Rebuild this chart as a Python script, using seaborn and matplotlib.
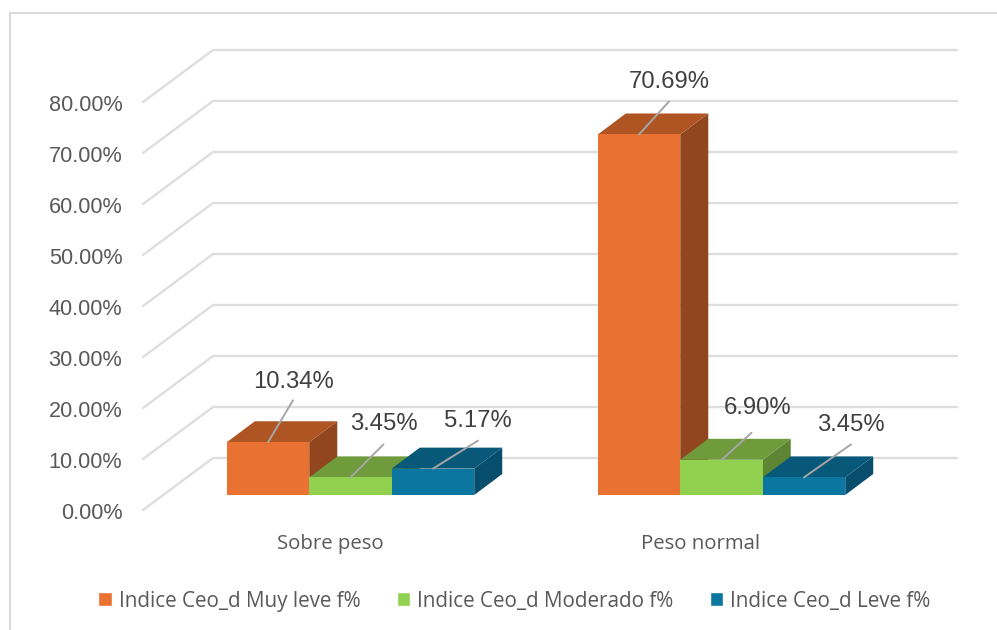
"""
plot.py - 3D looking clustered bars of Indice Ceo_d by weight group.
"""

import matplotlib.pyplot as plt
import pandas as pd
import seaborn as sns
from matplotlib.lines import Line2D
from matplotlib.patches import Polygon
from matplotlib.transforms import ScaledTranslation

categories = ["Sobre peso", "Peso normal"]
series_names = ["Indice Ceo_d Muy leve f%", "Indice Ceo_d Moderado f%", "Indice Ceo_d Leve f%"]
muy_leve = [10.34, 70.69]
moderado = [3.45, 6.90]
leve = [5.17, 3.45]
y_ticks = [0, 10, 20, 30, 40, 50, 60, 70, 80]

front_colors = ["#E97132", "#92D050", "#0B76A0"]
top_colors = ["#AF5523", "#6F9B3C", "#08587A"]
side_colors = ["#91461D", "#5E8533", "#064E6B"]

FIG_W, FIG_H = 997, 630
PX_PER_CAT = 371.0
PX_PER_UNIT = 5.1
CAT0_PX = 350.5
BASE_PX = 495.0
DEPTH_X, DEPTH_Y = 28, 21

# label position relative to the front edge of each bar top, in pixels
text_offsets = [[(25, 60), (33, 53), (45, 48)], [(30, 52), (36, 52), (47, 52)]]
line_offsets = [[(25, 42), (33, 33), (45, 28)], [(30, 33), (30, 27), (47, 33)]]

sns.set_theme(style="white")
plt.rcParams["font.family"] = ["Open Sans", "DejaVu Sans"]

df = pd.DataFrame({
    "categoria": categories * 3,
    "serie": [series_names[0]] * 2 + [series_names[1]] * 2 + [series_names[2]] * 2,
    "valor": muy_leve + moderado + leve,
})

fig = plt.figure(figsize=(FIG_W / 100, FIG_H / 100), dpi=100)
AX_L, AX_R, AX_T, AX_B = 130, 997, 13, 510
ax = fig.add_axes([AX_L / FIG_W, 1 - AX_B / FIG_H, (AX_R - AX_L) / FIG_W, (AX_B - AX_T) / FIG_H])
ax.patch.set_visible(False)

sns.barplot(data=df, x="categoria", y="valor", hue="serie", order=categories, hue_order=series_names,
            palette=front_colors, saturation=1, width=0.667, ax=ax, legend=True)

ax.set_xlim((AX_L - CAT0_PX) / PX_PER_CAT, (AX_R - CAT0_PX) / PX_PER_CAT)
ax.set_ylim((BASE_PX - AX_B) / PX_PER_UNIT, (BASE_PX - AX_T) / PX_PER_UNIT)

dx = DEPTH_X / PX_PER_CAT
dy = DEPTH_Y / PX_PER_UNIT

# gridlines running along the left wall and the back wall
wall_front_x = (143 - CAT0_PX) / PX_PER_CAT
wall_back_x = (213 - CAT0_PX) / PX_PER_CAT
wall_end_x = (957 - CAT0_PX) / PX_PER_CAT
for tick in y_ticks:
    ax.plot([wall_front_x, wall_back_x, wall_end_x],
            [tick - 15 / PX_PER_UNIT, tick + 37 / PX_PER_UNIT, tick + 37 / PX_PER_UNIT],
            color="#DEDEDE", lw=1.7, zorder=0.5, clip_on=False, solid_joinstyle="miter")

# top and side faces, painted left to right so nearer bars overlap
bars = []
for s, container in enumerate(ax.containers):
    for c, bar in enumerate(container):
        bars.append((bar.get_x(), s, c, bar))
bars.sort(key=lambda item: item[0])

for i, (x0, s, c, bar) in enumerate(bars):
    x1 = x0 + bar.get_width()
    h = bar.get_height()
    z = 2 + i
    bar.set_zorder(z + 0.2)
    bar.set_linewidth(0)
    ax.add_patch(Polygon([(x1, 0), (x1 + dx, dy), (x1 + dx, h + dy), (x1, h)],
                         facecolor=side_colors[s], edgecolor="none", zorder=z, clip_on=False))
    ax.add_patch(Polygon([(x0, h), (x1, h), (x1 + dx, h + dy), (x0 + dx, h + dy)],
                         facecolor=top_colors[s], edgecolor="none", zorder=z + 0.1, clip_on=False))

    center = (x0 + x1) / 2
    ax.annotate("", xy=(center, h), xytext=line_offsets[c][s], textcoords="offset pixels",
                arrowprops=dict(arrowstyle="-", color="#A6A6A6", lw=1.4, shrinkA=0, shrinkB=0),
                zorder=30)
    ax.annotate(f"{h:.2f}%", xy=(center, h), xytext=text_offsets[c][s], textcoords="offset pixels",
                ha="center", va="center", fontsize=17.2, color="#404040",
                family="Liberation Sans", zorder=31)

# axis text; tick labels sit on the front edge of the wall, below the bar plane
ax.set_xlabel("")
ax.set_ylabel("")
ax.set_yticks(y_ticks)
ax.set_yticklabels([f"{t:.2f}%" for t in y_ticks], family="Liberation Sans", fontsize=15.6, color="#595959")
ax.set_xticks(range(len(categories)))
ax.set_xticklabels(categories, fontsize=14.7, color="#595959")
ax.tick_params(axis="both", length=0)
ax.tick_params(axis="y", pad=5.5)
ax.tick_params(axis="x", pad=16)
shift = ScaledTranslation(0, -16 / 100, fig.dpi_scale_trans)
for label in ax.get_yticklabels():
    label.set_transform(label.get_transform() + shift)
shift_x = ScaledTranslation(-20.5 / 100, -2 / 100, fig.dpi_scale_trans)
for label in ax.get_xticklabels():
    label.set_transform(label.get_transform() + shift_x)
sns.despine(ax=ax, left=True, bottom=True)
ax.grid(False)

handles, labels = ax.get_legend_handles_labels()
ax.legend(handles, labels, ncol=3, loc="center", bbox_to_anchor=(514.5 / FIG_W, 1 - 601 / FIG_H),
          bbox_transform=fig.transFigure, frameon=False, fontsize=14.85, labelcolor="#595959",
          handlelength=0.64, handleheight=0.64, handletextpad=0.35, columnspacing=1.77)

# chart frame, cropped on the right and the bottom
frame = dict(color="#D9D9D9", lw=1.5, transform=fig.transFigure)
fig.add_artist(Line2D([10 / FIG_W, 10 / FIG_W], [0, 1 - 13 / FIG_H], **frame))
fig.add_artist(Line2D([10 / FIG_W, 1], [1 - 13 / FIG_H, 1 - 13 / FIG_H], **frame))

plt.savefig("out.png", dpi=100)
plt.close()
